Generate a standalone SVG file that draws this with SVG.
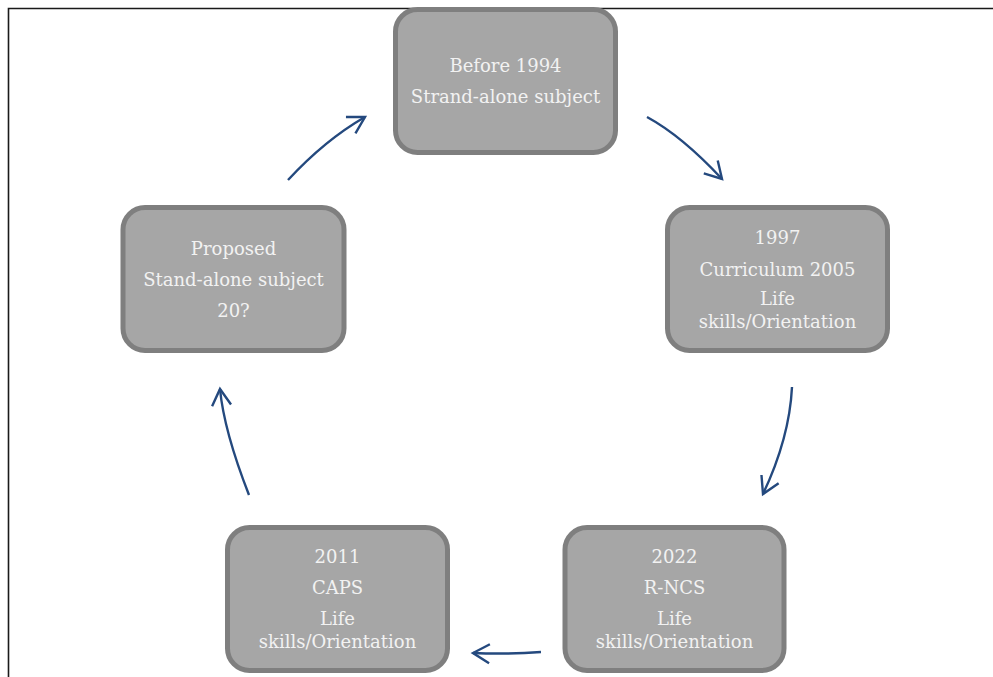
<svg xmlns="http://www.w3.org/2000/svg" width="993" height="677" viewBox="0 0 993 677">
  <style>
    .box { fill: #a6a6a6; stroke: #7f7f7f; stroke-width: 5; }
    .lbl { font-family: "DejaVu Serif", "Liberation Serif", serif; font-size: 18px; fill: #f2f2f2; text-anchor: middle; }
    .flow { fill: none; stroke: #24497e; stroke-width: 2.4; marker-end: url(#head); }
    .frame { fill: none; stroke: #1a1a1a; stroke-width: 1.6; }
  </style>
  <defs>
    <marker id="head" markerUnits="userSpaceOnUse" viewBox="-20 -12 24 24" markerWidth="24" markerHeight="24" refX="0" refY="0" orient="auto">
      <path d="M -16.5 -9.5 L 0 0 L -16.5 9.5" fill="none" stroke="#24497e" stroke-width="2.4" stroke-linejoin="miter"/>
    </marker>
  </defs>

  <rect width="993" height="677" fill="#ffffff"/>

  <!-- page frame: top and left edges -->
  <path class="frame" d="M 8.5 677 L 8.5 8.5 L 993 8.5"/>

  <!-- cycle connectors -->
  <g id="connectors">
    <path class="flow" d="M 647 117 Q 682 136 722 179"/>
    <path class="flow" d="M 792 387 Q 789.5 438 763 494"/>
    <path class="flow" d="M 541 652 Q 507 654.5 473 653"/>
    <path class="flow" d="M 249 495 Q 224 431 220 389"/>
    <path class="flow" d="M 288 180 Q 325 140 365 117"/>
  </g>

  <g id="node-before-1994">
    <rect class="box" x="395.5" y="9.5" width="220" height="143" rx="22"/>
    <text class="lbl" x="505.5" y="72">Before 1994</text>
    <text class="lbl" x="505.5" y="103">Strand-alone subject</text>
  </g>

  <g id="node-1997">
    <rect class="box" x="667.5" y="207.5" width="220" height="143" rx="22"/>
    <text class="lbl" x="777.5" y="244">1997</text>
    <text class="lbl" x="777.5" y="276">Curriculum 2005</text>
    <text class="lbl" x="777.5" y="305">Life</text>
    <text class="lbl" x="777.5" y="328">skills/Orientation</text>
  </g>

  <g id="node-2022">
    <rect class="box" x="565" y="527.5" width="219" height="143" rx="22"/>
    <text class="lbl" x="674.5" y="563">2022</text>
    <text class="lbl" x="674.5" y="594">R-NCS</text>
    <text class="lbl" x="674.5" y="625">Life</text>
    <text class="lbl" x="674.5" y="648">skills/Orientation</text>
  </g>

  <g id="node-2011">
    <rect class="box" x="227.5" y="527.5" width="220" height="143" rx="22"/>
    <text class="lbl" x="337.5" y="563">2011</text>
    <text class="lbl" x="337.5" y="594">CAPS</text>
    <text class="lbl" x="337.5" y="625">Life</text>
    <text class="lbl" x="337.5" y="648">skills/Orientation</text>
  </g>

  <g id="node-proposed">
    <rect class="box" x="123" y="207.5" width="221" height="143" rx="22"/>
    <text class="lbl" x="233.5" y="255">Proposed</text>
    <text class="lbl" x="233.5" y="286">Stand-alone subject</text>
    <text class="lbl" x="233.5" y="317">20?</text>
  </g>
</svg>
